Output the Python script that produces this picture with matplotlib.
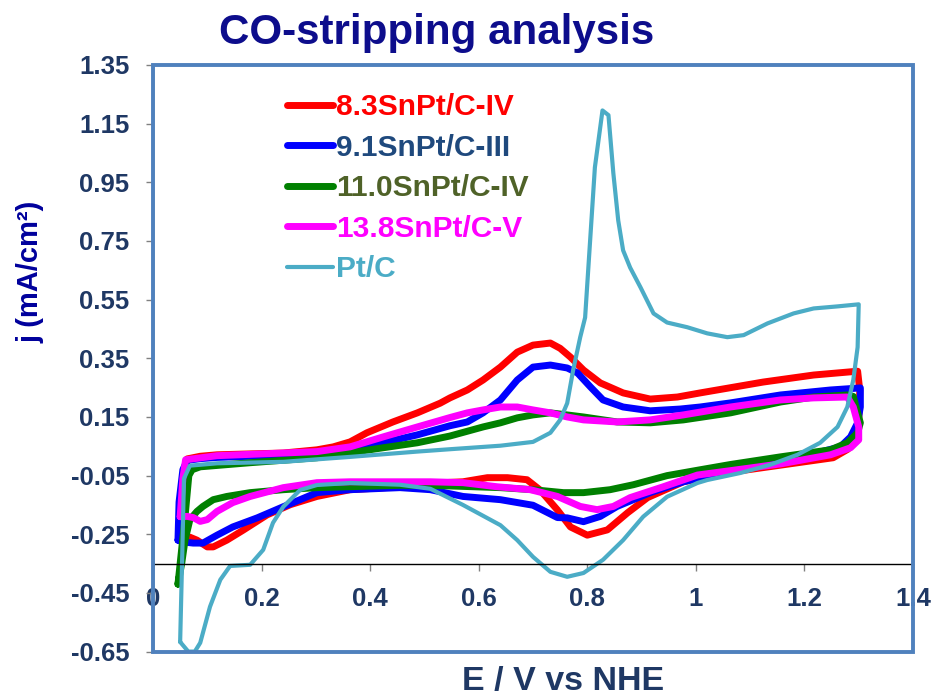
import matplotlib
matplotlib.use("Agg")
import matplotlib.pyplot as plt
from matplotlib.patches import Rectangle

plt.rcParams['font.family'] = ['Liberation Sans', 'DejaVu Sans']
plt.rcParams['font.weight'] = 'bold'
plt.rcParams['axes.unicode_minus'] = False

# ---- CO-stripping voltammograms: potential (V vs NHE) and current density (mA/cm2) ----
e_sn83 = [0.052, 0.058, 0.063, 0.087, 0.118, 0.240, 0.302, 0.332, 0.363, 0.394, 0.442, 0.487,
          0.529, 0.547, 0.579, 0.608, 0.640, 0.671, 0.700, 0.732, 0.750, 0.769, 0.793, 0.824,
          0.866, 0.916, 0.966, 1.008, 1.124, 1.217, 1.298, 1.302, 1.300, 1.292, 1.280, 1.253,
          1.161, 1.069, 0.977, 0.911, 0.874, 0.837, 0.800, 0.769, 0.745, 0.713, 0.689, 0.653,
          0.616, 0.571, 0.511, 0.455, 0.363, 0.302, 0.253, 0.210, 0.166, 0.136, 0.111, 0.100,
          0.081, 0.068, 0.052]
j_sn83 = [-0.26, -0.06, 0.007, 0.016, 0.021, 0.027, 0.038, 0.048, 0.065, 0.096, 0.133, 0.164,
          0.197, 0.215, 0.242, 0.276, 0.320, 0.371, 0.395, 0.402, 0.384, 0.354, 0.310, 0.266,
          0.232, 0.211, 0.218, 0.232, 0.269, 0.293, 0.306, 0.24, 0.14, 0.07, 0.04, 0.011,
          -0.013, -0.037, -0.071, -0.125, -0.177, -0.235, -0.253, -0.225, -0.167, -0.099, -0.064, -0.057,
          -0.057, -0.071, -0.076, -0.088, -0.098, -0.121, -0.149, -0.184, -0.236, -0.27, -0.293, -0.293,
          -0.27, -0.26, -0.26]

e_sn91 = [0.046, 0.048, 0.055, 0.063, 0.087, 0.118, 0.240, 0.302, 0.363, 0.424, 0.487, 0.547,
          0.579, 0.608, 0.640, 0.671, 0.700, 0.732, 0.763, 0.782, 0.806, 0.829, 0.866, 0.916,
          0.971, 1.008, 1.064, 1.156, 1.248, 1.303, 1.303, 1.298, 1.285, 1.266, 1.217, 1.156,
          1.064, 1.008, 0.977, 0.916, 0.855, 0.824, 0.793, 0.763, 0.745, 0.700, 0.640, 0.571,
          0.511, 0.455, 0.363, 0.302, 0.240, 0.192, 0.147, 0.118, 0.092, 0.074, 0.055, 0.046]
j_sn91 = [-0.27, -0.14, -0.03, 0.002, 0.008, 0.012, 0.020, 0.027, 0.042, 0.062, 0.089, 0.120,
          0.133, 0.164, 0.208, 0.276, 0.320, 0.327, 0.317, 0.300, 0.252, 0.208, 0.184, 0.171,
          0.177, 0.184, 0.198, 0.225, 0.242, 0.249, 0.184, 0.130, 0.082, 0.048, 0.025, -0.005,
          -0.035, -0.058, -0.071, -0.108, -0.155, -0.189, -0.207, -0.194, -0.193, -0.151, -0.132, -0.121,
          -0.098, -0.091, -0.098, -0.108, -0.156, -0.194, -0.225, -0.253, -0.28, -0.28, -0.276, -0.27]

e_sn110 = [0.046, 0.058, 0.066, 0.072, 0.087, 0.179, 0.302, 0.363, 0.424, 0.487, 0.547, 0.608,
           0.640, 0.671, 0.700, 0.732, 0.793, 0.855, 0.916, 0.977, 1.064, 1.156, 1.217, 1.279,
           1.290, 1.298, 1.303, 1.298, 1.279, 1.248, 1.156, 1.064, 1.008, 0.947, 0.885, 0.842,
           0.793, 0.756, 0.700, 0.640, 0.511, 0.455, 0.302, 0.240, 0.179, 0.136, 0.111, 0.092,
           0.081, 0.068, 0.059, 0.053, 0.046]
j_sn110 = [-0.42, -0.21, -0.05, -0.03, -0.02, -0.006, 0.011, 0.028, 0.045, 0.062, 0.085, 0.116,
           0.130, 0.147, 0.157, 0.164, 0.150, 0.133, 0.130, 0.140, 0.164, 0.201, 0.218, 0.225,
           0.220, 0.164, 0.130, 0.096, 0.062, 0.038, 0.014, -0.012, -0.03, -0.05, -0.081, -0.098,
           -0.108, -0.108, -0.098, -0.091, -0.083, -0.083, -0.091, -0.098, -0.108, -0.121, -0.132, -0.155,
           -0.172, -0.200, -0.27, -0.348, -0.42]

e_sn138 = [0.050, 0.055, 0.060, 0.118, 0.240, 0.302, 0.363, 0.424, 0.487, 0.547, 0.579, 0.608,
           0.640, 0.671, 0.700, 0.732, 0.763, 0.793, 0.855, 0.916, 0.977, 1.064, 1.156, 1.217,
           1.279, 1.290, 1.300, 1.300, 1.285, 1.248, 1.156, 1.064, 1.003, 0.940, 0.879, 0.848,
           0.818, 0.787, 0.745, 0.695, 0.634, 0.571, 0.511, 0.455, 0.363, 0.302, 0.240, 0.179,
           0.147, 0.118, 0.100, 0.087, 0.074, 0.063, 0.050]
j_sn138 = [-0.19, -0.06, 0.004, 0.018, 0.027, 0.032, 0.048, 0.082, 0.116, 0.148, 0.164, 0.174,
           0.184, 0.184, 0.174, 0.164, 0.150, 0.140, 0.133, 0.140, 0.157, 0.184, 0.208, 0.215,
           0.218, 0.184, 0.116, 0.072, 0.045, 0.021, -0.01, -0.033, -0.048, -0.088, -0.125, -0.155,
           -0.166, -0.155, -0.121, -0.098, -0.088, -0.074, -0.071, -0.071, -0.071, -0.074, -0.091, -0.121,
           -0.142, -0.172, -0.2, -0.206, -0.193, -0.189, -0.19]

e_ptc = [0.050, 0.054, 0.057, 0.068, 0.118, 0.240, 0.364, 0.487, 0.547, 0.640, 0.700, 0.732,
         0.750, 0.763, 0.774, 0.787, 0.796, 0.814, 0.828, 0.839, 0.848, 0.857, 0.866, 0.879,
         0.898, 0.922, 0.947, 0.984, 1.021, 1.058, 1.088, 1.132, 1.180, 1.217, 1.261, 1.300,
         1.298, 1.290, 1.279, 1.261, 1.229, 1.187, 1.137, 1.082, 1.021, 1.003, 0.947, 0.903,
         0.866, 0.829, 0.793, 0.763, 0.732, 0.700, 0.671, 0.640, 0.571, 0.511, 0.455, 0.363,
         0.302, 0.271, 0.240, 0.221, 0.203, 0.179, 0.142, 0.124, 0.105, 0.087, 0.077, 0.065, 0.050]
j_ptc = [-0.617, -0.31, -0.06, -0.016, -0.008, -0.003, 0.014, 0.032, 0.040, 0.052, 0.065, 0.096,
         0.140, 0.197, 0.310, 0.422, 0.489, 1.001, 1.195, 1.179, 0.981, 0.820, 0.718, 0.659,
         0.592, 0.503, 0.472, 0.456, 0.435, 0.422, 0.429, 0.469, 0.503, 0.520, 0.527, 0.534,
         0.388, 0.276, 0.184, 0.116, 0.062, 0.021, -0.013, -0.041, -0.065, -0.075, -0.122, -0.190,
         -0.270, -0.337, -0.382, -0.395, -0.378, -0.327, -0.270, -0.219, -0.150, -0.095, -0.081, -0.075,
         -0.082, -0.099, -0.156, -0.211, -0.303, -0.354, -0.358, -0.405, -0.497, -0.62, -0.65, -0.65, -0.617]

labels = ['8.3SnPt/C-IV', '9.1SnPt/C-III', '11.0SnPt/C-IV', '13.8SnPt/C-V', 'Pt/C']
x_ticks = [0, 0.2, 0.4, 0.6, 0.8, 1.0, 1.2, 1.4]
x_tick_labels = ['0', '0.2', '0.4', '0.6', '0.8', '1', '1.2', '1.4']
y_ticks = [-0.65, -0.45, -0.25, -0.05, 0.15, 0.35, 0.55, 0.75, 0.95, 1.15, 1.35]
y_tick_labels = ['-0.65', '-0.45', '-0.25', '-0.05', '0.15', '0.35', '0.55', '0.75', '0.95', '1.15', '1.35']

series = [(e_sn83, j_sn83), (e_sn91, j_sn91), (e_sn110, j_sn110), (e_sn138, j_sn138), (e_ptc, j_ptc)]
line_colors = ['#FF0000', '#0000FF', '#008000', '#FF00FF', '#4BACC6']
text_colors = ['#FF0000', '#1F497D', '#4F6228', '#FF00FF', '#4BACC6']
widths = [5.0, 5.0, 5.0, 5.0, 3.0]

W, H = 933, 698
fig = plt.figure(figsize=(W / 100, H / 100), dpi=100)
ax = fig.add_axes([153 / W, 1 - 651.6 / H, 760 / W, 586.6 / H])

for (e, j), lab, c, lw in zip(series, labels, line_colors, widths):
    ax.plot(e, j, color=c, lw=lw, label=lab, solid_joinstyle='round', solid_capstyle='round')

ax.set_xlim(0, 1.4)
ax.set_ylim(-0.65, 1.35)

ax.set_xticks(x_ticks)
ax.set_xticklabels(x_tick_labels)
ax.set_yticks(y_ticks)
ax.set_yticklabels(y_tick_labels)

tick_color = '#1F3864'
ax.tick_params(axis='both', direction='out', length=5, width=1, color='#808080',
               labelsize=18.5, labelcolor=tick_color)
ax.tick_params(axis='x', pad=12)
ax.tick_params(axis='y', pad=12)

# horizontal axis line crosses at j = -0.35, vertical axis line at E = 0
ax.spines['bottom'].set_position(('data', -0.35))
ax.spines['bottom'].set_color('black')
ax.spines['bottom'].set_linewidth(1)
ax.spines['left'].set_color('black')
ax.spines['left'].set_linewidth(1)
ax.spines['top'].set_visible(False)
ax.spines['right'].set_visible(False)

# blue plot-area border
ax.add_patch(Rectangle((0, 0), 1, 1, transform=ax.transAxes, fill=False,
                       edgecolor='#4F81BD', lw=2.8, clip_on=False, zorder=10))

leg = ax.legend(loc='upper left', bbox_to_anchor=(287 / W, 1 - 93 / H),
                bbox_transform=fig.transFigure, frameon=False, handlelength=1.54,
                handletextpad=0.1, labelspacing=0.42, borderpad=0, borderaxespad=0,
                prop={'size': 21.5, 'weight': 'bold'}, labelcolor=text_colors)

fig.text(436.5 / W, 1 - 44 / H, 'CO-stripping analysis', ha='center', va='baseline',
         fontsize=30.3, weight='bold', color='#0D0D8C')
fig.text(31 / W, 1 - 272 / H, 'j (mA/cm²)', rotation=90, ha='center', va='center',
         fontsize=21, weight='bold', color='#00009C')
fig.text(563 / W, 1 / H, 'E / V vs NHE', ha='center', va='bottom',
         fontsize=24.5, weight='bold', color=tick_color)

fig.savefig('out.png', dpi=100)
